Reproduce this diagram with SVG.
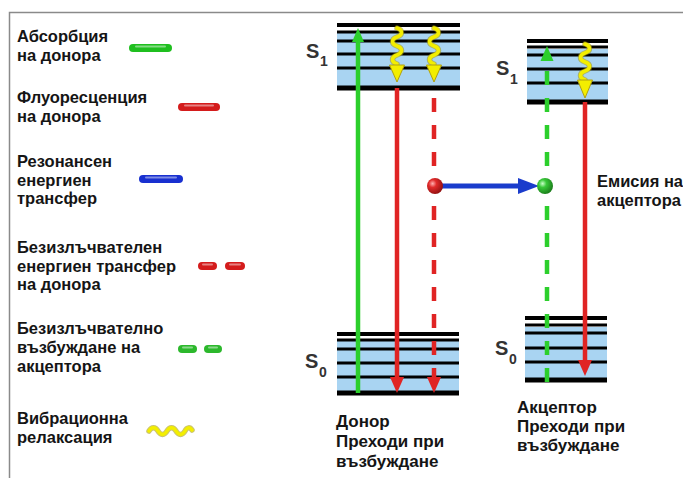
<svg xmlns="http://www.w3.org/2000/svg" width="683" height="478" viewBox="0 0 683 478">
<defs>
<style>
.t{font-family:"Liberation Sans",Arial,sans-serif;font-weight:bold;fill:#151515;font-size:16.5px}
.tb{font-size:17px}
.s{font-family:"Liberation Sans",Arial,sans-serif;font-weight:bold;fill:#333}
.lv{stroke:#000;fill:none}
.band{fill:#a9d4f2}
.wv{fill:none;stroke:#f3ee00;stroke-width:3.5;stroke-linecap:round}
.wvo{fill:none;stroke:#a89c10;stroke-width:5.5;stroke-linecap:round;opacity:.6}
.yh{fill:#f3ee00;stroke:#b0a010;stroke-width:1}
.gr{stroke:#2ccf2c;stroke-width:4.5}
.rd{stroke:#e02424;stroke-width:4.5}
.pill{stroke-linecap:round;stroke-width:8;fill:none}
.gloss{stroke-linecap:round;stroke-width:2;fill:none;stroke:#fff;opacity:.45}
.frame{stroke:#8a8a8a;stroke-width:1.5;fill:none}
</style>
<radialGradient id="ballR" cx="0.35" cy="0.35" r="0.7">
<stop offset="0" stop-color="#ffb0b0"/>
<stop offset="0.35" stop-color="#e02a2a"/>
<stop offset="1" stop-color="#901010"/>
</radialGradient>
<radialGradient id="ballG" cx="0.35" cy="0.35" r="0.7">
<stop offset="0" stop-color="#c8ffc8"/>
<stop offset="0.35" stop-color="#38c838"/>
<stop offset="1" stop-color="#1a7a1a"/>
</radialGradient>
</defs>
<rect width="683" height="478" fill="#fff"/>
<path class="frame" d="M9.5 478 V12.5 H683"/>

<g id="legend-absorption">
<text class="t" x="17" y="42">Абсорбция</text>
<text class="t" x="17" y="61">на донора</text>
<line class="pill" x1="133" y1="48" x2="168" y2="48" stroke="#1fbf1f"/>
<line class="gloss" x1="136" y1="46.5" x2="165" y2="46.5"/>
</g>
<g id="legend-fluorescence">
<text class="t" x="17" y="103">Флуоресценция</text>
<text class="t" x="17" y="122">на донора</text>
<line class="pill" x1="182" y1="107" x2="216" y2="107" stroke="#d41c1c"/>
<line class="gloss" x1="185" y1="105.5" x2="213" y2="105.5"/>
</g>
<g id="legend-fret">
<text class="t" x="17" y="167">Резонансен</text>
<text class="t" x="17" y="186">енергиен</text>
<text class="t" x="17" y="204">трансфер</text>
<line class="pill" x1="143" y1="179" x2="179" y2="179" stroke="#1830d0"/>
<line class="gloss" x1="146" y1="177.5" x2="176" y2="177.5"/>
</g>
<g id="legend-donor-nonrad">
<text class="t" x="17" y="253">Безизлъчвателен</text>
<text class="t" x="17" y="272">енергиен трансфер</text>
<text class="t" x="17" y="290">на донора</text>
<line class="pill" x1="202" y1="266" x2="213" y2="266" stroke="#d41c1c"/>
<line class="pill" x1="229" y1="266" x2="241" y2="266" stroke="#d41c1c"/>
<line class="gloss" x1="203" y1="264.5" x2="212" y2="264.5"/>
<line class="gloss" x1="230" y1="264.5" x2="240" y2="264.5"/>
</g>
<g id="legend-acceptor-nonrad">
<text class="t" x="17" y="334">Безизлъчвателно</text>
<text class="t" x="17" y="353">възбуждане на</text>
<text class="t" x="17" y="372">акцептора</text>
<line class="pill" x1="182" y1="349" x2="193" y2="349" stroke="#2cb82c"/>
<line class="pill" x1="208" y1="349" x2="218" y2="349" stroke="#2cb82c"/>
<line class="gloss" x1="183" y1="347.5" x2="192" y2="347.5"/>
<line class="gloss" x1="209" y1="347.5" x2="217" y2="347.5"/>
</g>
<g id="legend-vibrational">
<text class="t" x="17" y="424">Вибрационна</text>
<text class="t" x="17" y="443">релаксация</text>
<path class="wvo" d="M149 431 c2.5 -4.5 6.5 -4.5 9 0 c2.5 4.5 6.5 4.5 9 0 c2.5 -4.5 6.5 -4.5 9 0 c2.5 4.5 6.5 4.5 9 0 c2 -4 5 -4 7 -1"/>
<path class="wv" d="M149 431 c2.5 -4.5 6.5 -4.5 9 0 c2.5 4.5 6.5 4.5 9 0 c2.5 -4.5 6.5 -4.5 9 0 c2.5 4.5 6.5 4.5 9 0 c2 -4 5 -4 7 -1"/>
</g>

<g id="donor-S1">
<rect class="band" x="337" y="33" width="123" height="55"/>
<line class="lv" x1="337" x2="460" y1="25" y2="25" stroke-width="4"/>
<line class="lv" x1="337" x2="460" y1="32" y2="32" stroke-width="3"/>
<line class="lv" x1="337" x2="460" y1="41" y2="41" stroke-width="3"/>
<line class="lv" x1="337" x2="460" y1="54" y2="54" stroke-width="3"/>
<line class="lv" x1="337" x2="460" y1="68" y2="68" stroke-width="3"/>
<line class="lv" x1="337" x2="460" y1="88" y2="88" stroke-width="5"/>
<text class="s" x="306" y="58" font-size="20">S</text>
<text class="s" x="320" y="66" font-size="14">1</text>
</g>
<g id="donor-S0">
<rect class="band" x="337" y="341" width="122" height="52"/>
<line class="lv" x1="337" x2="459" y1="334" y2="334" stroke-width="4"/>
<line class="lv" x1="337" x2="459" y1="340" y2="340" stroke-width="3"/>
<line class="lv" x1="337" x2="459" y1="349" y2="349" stroke-width="3"/>
<line class="lv" x1="337" x2="459" y1="363" y2="363" stroke-width="3"/>
<line class="lv" x1="337" x2="459" y1="377" y2="377" stroke-width="3"/>
<line class="lv" x1="337" x2="459" y1="393" y2="393" stroke-width="5"/>
<text class="s" x="305" y="368" font-size="20">S</text>
<text class="s" x="319" y="377" font-size="14">0</text>
</g>
<g id="donor-label">
<text class="t tb" x="336" y="427">Донор</text>
<text class="t tb" x="336" y="447">Преходи при</text>
<text class="t tb" x="336" y="467">възбуждане</text>
</g>

<g id="acceptor-S1">
<rect class="band" x="527" y="49" width="81" height="53"/>
<line class="lv" x1="527" x2="608" y1="41" y2="41" stroke-width="4"/>
<line class="lv" x1="527" x2="608" y1="47" y2="47" stroke-width="3"/>
<line class="lv" x1="527" x2="608" y1="55" y2="55" stroke-width="3"/>
<line class="lv" x1="527" x2="608" y1="69" y2="69" stroke-width="3"/>
<line class="lv" x1="527" x2="608" y1="83" y2="83" stroke-width="3"/>
<line class="lv" x1="527" x2="608" y1="102" y2="102" stroke-width="5"/>
<text class="s" x="496" y="75" font-size="20">S</text>
<text class="s" x="510" y="84" font-size="14">1</text>
</g>
<g id="acceptor-S0">
<rect class="band" x="525" y="327" width="82" height="53"/>
<line class="lv" x1="525" x2="607" y1="318" y2="318" stroke-width="4"/>
<line class="lv" x1="525" x2="607" y1="325" y2="325" stroke-width="3"/>
<line class="lv" x1="525" x2="607" y1="333" y2="333" stroke-width="3"/>
<line class="lv" x1="525" x2="607" y1="348" y2="348" stroke-width="3"/>
<line class="lv" x1="525" x2="607" y1="362" y2="362" stroke-width="3"/>
<line class="lv" x1="525" x2="607" y1="380" y2="380" stroke-width="5"/>
<text class="s" x="495" y="355" font-size="20">S</text>
<text class="s" x="509" y="364" font-size="14">0</text>
</g>
<g id="acceptor-label">
<text class="t tb" x="517" y="413">Акцептор</text>
<text class="t tb" x="517" y="432">Преходи при</text>
<text class="t tb" x="517" y="451">възбуждане</text>
</g>
<g id="emission-label">
<text class="t" x="597" y="187">Емисия на</text>
<text class="t" x="597" y="206">акцептора</text>
</g>

<g id="connectors">
<line class="gr" x1="358" y1="393" x2="358" y2="40"/>
<polygon points="358,28 352,42 364,42" fill="#2ccf2c"/>
<line class="rd" x1="397" y1="88" x2="397" y2="380"/>
<polygon points="397,393 390,377 404,377" fill="#e02424"/>
<line class="rd" x1="434" y1="98" x2="434" y2="380" stroke-dasharray="14 13"/>
<polygon points="434,393 427,377 441,377" fill="#e02424"/>
<path class="wvo" d="M397 28 c6 2 6 7 0 9 c-6 2 -6 7 0 9 c6 2 6 7 0 9 c-6 2 -6 7 0 9"/>
<path class="wv" d="M397 28 c6 2 6 7 0 9 c-6 2 -6 7 0 9 c6 2 6 7 0 9 c-6 2 -6 7 0 9"/>
<polygon class="yh" points="397,82 389.5,65 404.5,65"/>
<path class="wvo" d="M434 28 c6 2 6 7 0 9 c-6 2 -6 7 0 9 c6 2 6 7 0 9 c-6 2 -6 7 0 9"/>
<path class="wv" d="M434 28 c6 2 6 7 0 9 c-6 2 -6 7 0 9 c6 2 6 7 0 9 c-6 2 -6 7 0 9"/>
<polygon class="yh" points="434,82 426.5,65 441.5,65"/>
<line class="gr" x1="547" y1="71" x2="547" y2="382" stroke-dasharray="14 13"/>
<polygon points="547,46 540.5,61 553.5,61" fill="#2ccf2c"/>
<line class="rd" x1="585" y1="102" x2="585" y2="364"/>
<polygon points="585,376 578,360 592,360" fill="#e02424"/>
<path class="wvo" d="M585 44 c6 2 6 7 0 9 c-6 2 -6 7 0 9 c6 2 6 7 0 9 c-6 2 -6 7 0 9"/>
<path class="wv" d="M585 44 c6 2 6 7 0 9 c-6 2 -6 7 0 9 c6 2 6 7 0 9 c-6 2 -6 7 0 9"/>
<polygon class="yh" points="585,98 577.5,80 592.5,80"/>
<line x1="436" y1="186" x2="520" y2="186" stroke="#1a3ccc" stroke-width="5"/>
<polygon points="539,186 518,178 518,194" fill="#1a3ccc"/>
<circle cx="435" cy="186" r="8" fill="url(#ballR)"/>
<circle cx="545" cy="186" r="8" fill="url(#ballG)"/>
</g>
</svg>
